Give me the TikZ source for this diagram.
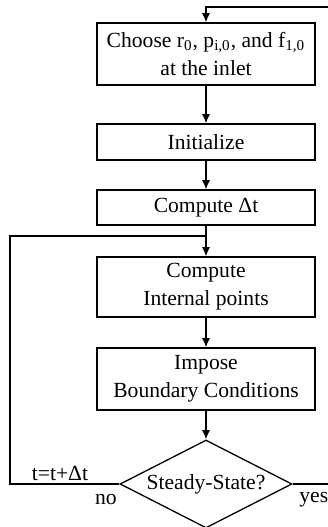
\documentclass[tikz,border=0pt]{standalone}
\usepackage{fontspec}
\setmainfont{Liberation Serif}
\usetikzlibrary{arrows.meta,shapes.geometric}
\tikzset{
  flowbox/.style={draw, line width=0.65pt, minimum width=109pt, align=center, inner sep=2pt},
  decide/.style={draw, diamond, line width=0.65pt, minimum width=86pt, minimum height=44pt, aspect=1.95, inner sep=0pt},
  flowline/.style={line width=0.65pt},
}
\begin{document}
\begin{tikzpicture}[x=0.5pt, y=-0.5pt, >={Latex[length=4.6pt,width=4pt]},
    font=\fontsize{10.8}{14}\selectfont]
            \useasboundingbox (0,0) rectangle (328,527);
            % boxes
            \node[flowbox, minimum height=31pt] (choose) at (206,54)
                {Choose r\textsubscript{0}, p\textsubscript{i,0}, and f\textsubscript{1,0}\\at the inlet};
            \node[flowbox, minimum height=18pt] (init) at (206,142) {Initialize};
            \node[flowbox, minimum height=17.5pt] (dt) at (206,207.5) {Compute Δt};
            \node[flowbox, minimum height=30pt] (internal) at (206,287) {Compute\\Internal points};
            \node[flowbox, minimum height=31pt] (bc) at (206,379) {Impose\\Boundary Conditions};
            \node[decide] (steady) at (206,484) {Steady-State?};
            % loose ends and corners
            \coordinate (topin) at (330,7);
            \coordinate (out) at (330,484);
            \coordinate (join) at (206,236);
            \coordinate (cornerlo) at (10,484);
            \coordinate (cornerhi) at (10,236);
            % connectors
            \draw[flowline, ->] (topin) -| (choose.north);
            \draw[flowline, ->] (choose) -- (init);
            \draw[flowline, ->] (init) -- (dt);
            \draw[flowline, ->] (dt) -- (internal);
            \draw[flowline, ->] (internal) -- (bc);
            \draw[flowline, ->] (bc) -- (steady);
            \draw[flowline] (steady.west) -- (cornerlo) -- (cornerhi) -- (join);
            \draw[flowline] (steady.east) -- (out);
            % labels
            \node (step) at (60,473) {t=t+Δt};
            \node (no) at (106,500) {no};
            \node[anchor=west, inner sep=0pt] (yes) at (299,500) {yes};
        \end{tikzpicture}
\end{document}
